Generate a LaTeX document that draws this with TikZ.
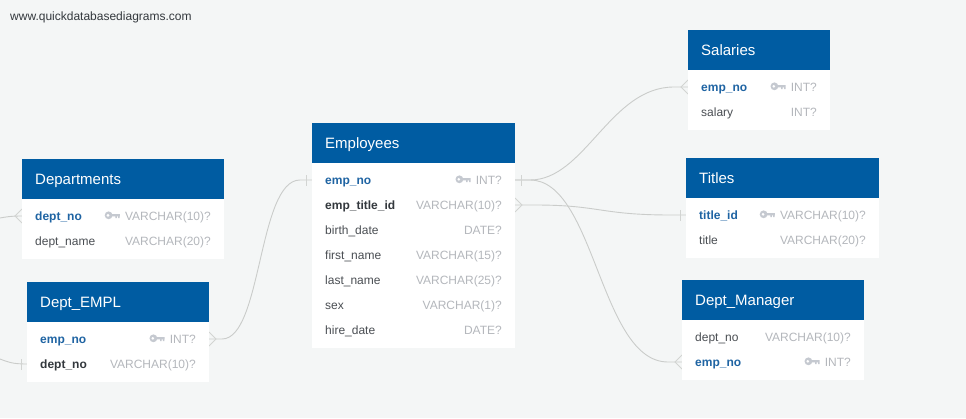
\documentclass[tikz,border=0pt]{standalone}
\usepackage{fontspec}
\setmainfont{Liberation Sans}
\definecolor{bgc}{HTML}{F4F6F6}
\definecolor{headc}{HTML}{005CA2}
\definecolor{pkc}{HTML}{1F64A3}
\definecolor{fieldc}{HTML}{4A4E53}
\definecolor{fkc}{HTML}{33383D}
\definecolor{typec}{HTML}{B4B7BC}
\definecolor{keyc}{HTML}{C5C9D0}
\definecolor{linec}{HTML}{CACCCA}
\definecolor{markc}{HTML}{D2D4D2}
\tikzset{
  tablebody/.style={fill=white,inner sep=0pt,outer sep=0pt,anchor=north west},
  tablehead/.style={fill=headc,inner sep=0pt,outer sep=0pt,anchor=north west,minimum height=40pt},
  tabletitle/.style={text=white,inner sep=0pt,anchor=base west,font=\fontsize{15}{15}\selectfont},
  fieldname/.style={inner sep=0pt,anchor=base west,text=fieldc,font=\fontsize{12}{12}\selectfont},
  pkname/.style={fieldname,text=pkc,font=\fontsize{12}{12}\selectfont\bfseries},
  fkname/.style={fieldname,text=fkc,font=\fontsize{12}{12}\selectfont\bfseries},
  fieldtype/.style={inner sep=0pt,anchor=base east,text=typec,font=\fontsize{12}{12}\selectfont},
  link/.style={draw=linec,line width=0.9pt},
  endmark/.style={draw=markc,line width=0.9pt},
}
% table: name, x, y, width, height, title
\newcommand{\dbtable}[6]{%
  \node[tablebody,minimum width=#4pt,minimum height=#5pt] (#1) at (#2,#3) {};
  \node[tablehead,minimum width=#4pt] (#1head) at (#2,#3) {};
  \node[tabletitle] (#1title) at (#2+13,#3+25) {#6};
}
% row: id, style, left x, right x, centre y, name, type
\newcommand{\dbrow}[7]{%
  \node[#2] (#1n) at (#3+13,#5+4.3) {#6};
  \node[fieldtype] (#1t) at (#4-13,#5+4.3) {#7};
}
\newcommand{\dbkey}[1]{%
  \begin{scope}[shift={(#1.base west)}]
    \fill[keyc,even odd rule] (-16.2,-5) circle[radius=3.9] (-16.8,-5) circle[radius=1.7];
    \fill[keyc] (-13,-6.2) rectangle (-5,-4) (-9.4,-4) rectangle (-7.9,-2.2) (-6.6,-4) rectangle (-5.1,-2.2);
  \end{scope}
}
% crow's foot: port, sign of direction (+1 to the right of the table edge)
\newcommand{\crow}[2]{%
  \draw[endmark] ([yshift=-7pt]#1) -- ([xshift=#2*7pt]#1) -- ([yshift=7pt]#1);
}
\newcommand{\onebar}[2]{%
  \draw[endmark] ([xshift=#2*6pt,yshift=-5.5pt]#1) -- ([xshift=#2*6pt,yshift=5.5pt]#1);
}
\begin{document}
\begin{tikzpicture}[x=1pt,y=-1pt]
\useasboundingbox (0,0) rectangle (966,418);
\fill[bgc] (0,0) rectangle (966,418);
\node[inner sep=0pt,anchor=base west,text=fkc,font=\fontsize{12}{12}\selectfont] (site) at (10,20) {www.quickdatabasediagrams.com};

% ports and free ends
\coordinate (pDeptNo) at (22,216);
\coordinate (pDeptNoFree) at (0,218);
\coordinate (pDeNo) at (27,364);
\coordinate (pDeNoFree) at (0,359);
\coordinate (pDeEmp) at (209,339);
\coordinate (pEmpL) at (312,180);
\coordinate (pEmpR) at (515,180);
\coordinate (pEmpT) at (515,205);
\coordinate (pSal) at (688,87);
\coordinate (pTit) at (686,215);
\coordinate (pMgr) at (682,362);

% connectors
\draw[link] (pDeptNoFree) .. controls (6,217) and (10,216) .. (pDeptNo);
\draw[link] (pDeNoFree) .. controls (8,362) and (12,364) .. (pDeNo);
\draw[link] (pDeEmp) -- ++(13,0) .. controls (262,339) and (258,180) .. ([xshift=-12pt]pEmpL) -- (pEmpL);
\draw[link] (pEmpR) -- ++(15,0) .. controls (585,180) and (610,87) .. ([xshift=-14pt]pSal) -- (pSal);
\draw[link] (pEmpR) -- ++(15,0) .. controls (595,180) and (600,362) .. ([xshift=-14pt]pMgr) -- (pMgr);
\draw[link] (pEmpT) -- ++(20,0) .. controls (600,205) and (600,215) .. ([xshift=-15pt]pTit) -- (pTit);
\crow{pDeptNo}{-1}
\onebar{pDeNo}{-1}
\crow{pDeEmp}{1}
\onebar{pEmpL}{-1}
\onebar{pEmpR}{1}
\crow{pEmpT}{1}
\crow{pSal}{-1}
\onebar{pTit}{-1}
\crow{pMgr}{-1}

% Departments
\dbtable{dep}{22}{159}{202}{100}{Departments}
\dbrow{depA}{pkname}{22}{224}{216}{dept\_no}{VARCHAR(10)?}
\dbrow{depB}{fieldname}{22}{224}{241}{dept\_name}{VARCHAR(20)?}
\dbkey{depAt}

% Dept_EMPL
\dbtable{dem}{27}{282}{182}{100}{Dept\_EMPL}
\dbrow{demA}{pkname}{27}{209}{339}{emp\_no}{INT?}
\dbrow{demB}{fkname}{27}{209}{364}{dept\_no}{VARCHAR(10)?}
\dbkey{demAt}

% Employees
\dbtable{emp}{312}{123}{203}{225}{Employees}
\dbrow{empA}{pkname}{312}{515}{180}{emp\_no}{INT?}
\dbrow{empB}{fkname}{312}{515}{205}{emp\_title\_id}{VARCHAR(10)?}
\dbrow{empC}{fieldname}{312}{515}{230}{birth\_date}{DATE?}
\dbrow{empD}{fieldname}{312}{515}{255}{first\_name}{VARCHAR(15)?}
\dbrow{empE}{fieldname}{312}{515}{280}{last\_name}{VARCHAR(25)?}
\dbrow{empF}{fieldname}{312}{515}{305}{sex}{VARCHAR(1)?}
\dbrow{empG}{fieldname}{312}{515}{330}{hire\_date}{DATE?}
\dbkey{empAt}

% Salaries
\dbtable{sal}{688}{30}{142}{100}{Salaries}
\dbrow{salA}{pkname}{688}{830}{87}{emp\_no}{INT?}
\dbrow{salB}{fieldname}{688}{830}{112}{salary}{INT?}
\dbkey{salAt}

% Titles
\dbtable{tit}{686}{158}{193}{100}{Titles}
\dbrow{titA}{pkname}{686}{879}{215}{title\_id}{VARCHAR(10)?}
\dbrow{titB}{fieldname}{686}{879}{240}{title}{VARCHAR(20)?}
\dbkey{titAt}

% Dept_Manager
\dbtable{mgr}{682}{280}{182}{100}{Dept\_Manager}
\dbrow{mgrA}{fieldname}{682}{864}{337}{dept\_no}{VARCHAR(10)?}
\dbrow{mgrB}{pkname}{682}{864}{362}{emp\_no}{INT?}
\dbkey{mgrBt}
\end{tikzpicture}
\end{document}
